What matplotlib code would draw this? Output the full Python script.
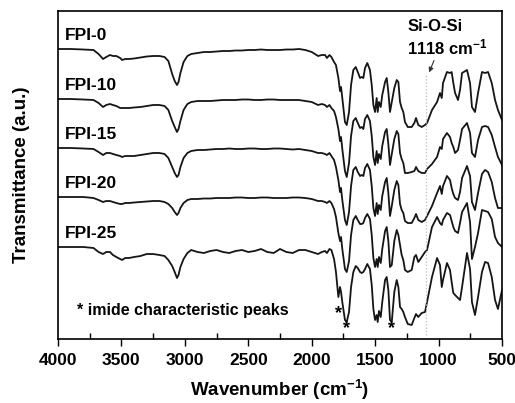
import numpy as np
import matplotlib
matplotlib.use("Agg")
import matplotlib.pyplot as plt
from matplotlib.ticker import MultipleLocator

plt.rcParams["font.family"] = ["Liberation Sans", "DejaVu Sans"]
plt.rcParams["font.weight"] = "bold"
plt.rcParams["mathtext.fontset"] = "custom"
plt.rcParams["mathtext.rm"] = "Liberation Sans:bold"
plt.rcParams["mathtext.default"] = "rm"

# wavenumber grid (cm-1), shared by all spectra
wavenumber = [
    4000, 3900, 3800, 3720, 3680, 3645, 3620, 3590, 3567, 3540,
    3510, 3495, 3470, 3440, 3400, 3350, 3300, 3250, 3200, 3160,
    3130, 3100, 3080, 3062, 3050, 3035, 3010, 2980, 2950, 2900,
    2850, 2800, 2750, 2700, 2650, 2600, 2550, 2500, 2450, 2400,
    2350, 2300, 2250, 2200, 2150, 2100, 2050, 2000, 1950, 1920,
    1895, 1880, 1860, 1845,
    1824, 1809, 1790, 1777, 1769, 1759, 1738, 1724, 1706, 1690,
    1672, 1653, 1637, 1619, 1606, 1593, 1580, 1562, 1541, 1527,
    1514, 1501, 1488, 1480, 1470, 1456, 1444, 1422, 1409, 1396,
    1383, 1369, 1349, 1330, 1317, 1304, 1291, 1278, 1265, 1243,
    1212, 1191, 1178, 1160, 1133, 1107, 1091, 1052, 1012, 989,
    975, 965, 934, 910, 897, 884, 870, 847, 831, 815,
    776, 752, 737, 713, 689, 658, 634, 610, 581, 555, 532, 500,
]

# absorption depth below each baseline (a.u.)
fpi_0 = [
    0, 0, 0.5, 1, 5, 10, 8, 6, 7, 7,
    9, 11, 10, 10, 9.5, 8.5, 7.5, 7, 7, 8,
    12, 25, 32, 36, 33, 24, 13, 7, 5, 4,
    3, 3, 2.5, 2, 2, 1.5, 1.5, 1, 1, 0.5,
    1, 1, 1, 0.5, 0.5, 0, 1, 3, 7, 6,
    6, 9, 6, 8,
    13, 16, 29, 42, 38, 49, 73, 76, 63, 36,
    21, 18, 23, 29, 28, 29, 19, 14, 21, 36,
    56, 63, 49, 63, 53, 58, 46, 33, 29, 43,
    63, 53, 39, 31, 33, 53, 59, 63, 73, 78,
    78, 74, 69, 76, 78, 76, 74, 61, 53, 44,
    49, 34, 23, 24, 23, 34, 44, 51, 41, 24,
    21, 34, 58, 63, 44, 23, 24, 23, 34, 51, 61, 71,
]
fpi_10 = [
    0, 0, 0.5, 1, 4, 8, 6, 5, 6, 7,
    9, 9, 9, 9, 8.5, 8, 7, 6, 6, 7,
    11, 22, 28, 33, 30, 22, 11, 5, 3, 2,
    2, 2, 1.5, 1, 1, 1, 0.5, 0.5, 1, 1,
    0.5, 0.5, 1, 1, 1, 1, 2, 3, 6, 5,
    6, 8, 6, 9,
    12, 18, 30, 42, 38, 50, 72, 78, 64, 37,
    22, 19, 24, 29, 28, 30, 20, 16, 22, 37,
    58, 66, 52, 64, 55, 60, 47, 33, 30, 45,
    66, 55, 40, 32, 35, 54, 60, 64, 74, 74,
    73, 72, 68, 72, 74, 74, 70, 65, 58, 48,
    50, 40, 34, 38, 44, 48, 54, 51, 41, 30,
    24, 34, 54, 58, 41, 28, 27, 28, 36, 48, 58, 66,
]
fpi_15 = [
    0, 0, 0.5, 1, 4, 7, 5, 5, 6, 7,
    8, 9, 8, 8, 8, 7, 6, 5, 5, 6,
    10, 19, 25, 29, 27, 19, 10, 5, 3, 2,
    2, 1.5, 1, 1, 0.5, 1, 1, 0.5, 0.5, 1,
    1, 0.5, 0.5, 1, 1.5, 1, 2, 3, 5, 5,
    6, 7, 5, 8,
    12, 19, 32, 44, 40, 52, 72, 77, 64, 38,
    22, 19, 24, 28, 27, 28, 20, 16, 22, 38,
    60, 68, 55, 66, 57, 62, 48, 34, 30, 45,
    68, 58, 42, 33, 37, 56, 62, 65, 73, 75,
    75, 70, 66, 72, 74, 72, 68, 58, 45, 38,
    46, 38, 28, 32, 40, 46, 50, 52, 44, 30,
    18, 28, 54, 62, 45, 26, 22, 24, 34, 50, 60, 60,
]
fpi_20 = [
    0, 0, 0, 1, 3, 5, 4, 4, 5, 6,
    7, 7, 6, 6, 5.5, 5, 4.5, 4, 4, 5,
    7, 11, 15, 18, 16, 11, 6, 3, 2, 2,
    1.5, 1.5, 1, 1, 1, 0.5, 0.5, 1, 1, 0.5,
    0.5, 1, 1, 1, 0.5, 0.5, 1, 2, 4, 4,
    5, 6, 4, 6,
    12, 20, 36, 44, 40, 52, 72, 75, 64, 38,
    23, 19, 23, 27, 27, 26, 21, 17, 22, 38,
    61, 70, 62, 70, 60, 66, 52, 34, 30, 44,
    70, 68, 44, 33, 38, 48, 58, 63, 73, 75,
    73, 60, 58, 65, 60, 55, 53, 30, 20, 26,
    28, 23, 16, 18, 24, 30, 34, 36, 26, 15,
    6, 25, 62, 50, 36, 13, 14, 15, 22, 40, 46, 50,
]
fpi_25 = [
    0, 0, 0, 1, 5, 7, 5, 5, 8, 10,
    12, 13, 11, 11, 10, 9, 7, 7, 8, 9,
    13, 19, 25, 31, 28, 20, 12, 6, 3, 5,
    6, 4, 3, 5, 6, 4, 3, 5, 4, 2,
    5, 6, 2, 5, 6, 3, 3, 5, 7, 5,
    4, 6, 2, 3,
    12, 25, 50, 40, 45, 55, 73, 75, 65, 40,
    25, 19, 21, 25, 26, 25, 22, 17, 22, 38,
    62, 73, 68, 75, 64, 70, 55, 33, 30, 43,
    73, 75, 45, 33, 40, 60, 62, 65, 70, 77,
    78, 71, 67, 70, 66, 65, 55, 30, 11, 18,
    40, 33, 16, 23, 35, 46, 48, 51, 53, 40,
    6, 22, 55, 68, 50, 25, 15, 16, 30, 53, 62, 43,
]

labels = ["FPI-0", "FPI-10", "FPI-15", "FPI-20", "FPI-25"]
offsets = [290, 240, 191, 142, 92]
imide_peaks = [1790, 1724, 1369]
sio_band = 1100

fig = plt.figure(figsize=(5.15, 4.03), dpi=100)
ax = fig.add_axes([0.1126, 0.1588, 0.8622, 0.8139])

wn = np.array(wavenumber)
for name, depth, off in zip(labels, [fpi_0, fpi_10, fpi_15, fpi_20, fpi_25], offsets):
    ax.plot(wn, off - np.array(depth), color="#151515", lw=1.3)
    ax.text(3945, off + 14, name, fontsize=12.5, fontweight="bold",
            ha="left", va="center")

# imide markers
ax.text(imide_peaks[0], 25, "*", fontsize=13, ha="center", va="center")
ax.text(imide_peaks[1], 10, "*", fontsize=13, ha="center", va="center")
ax.text(imide_peaks[2], 10, "*", fontsize=13, ha="center", va="center")
ax.text(3850, 29, "* imide characteristic peaks", fontsize=11.5,
        ha="left", va="center")

# Si-O-Si band
ax.plot([sio_band, sio_band], [4, 264], color="#bbbbbb", lw=0.9, ls=":")
ax.text(1241, 313, "Si-O-Si", fontsize=12, ha="left", va="center")
ax.text(1249, 292, "1118 cm$^{-1}$", fontsize=12, ha="left", va="center")
ax.annotate("", xy=(1083, 264), xytext=(1028, 281),
            arrowprops=dict(arrowstyle="-|>", color="#333333", lw=0.8,
                            mutation_scale=7))

ax.set_xlim(4000, 500)
ax.set_ylim(0, 328)
ax.xaxis.set_major_locator(MultipleLocator(500))
ax.xaxis.set_minor_locator(MultipleLocator(250))
ax.tick_params(axis="x", which="major", direction="out", length=5,
               width=1, labelsize=12.5, pad=5)
ax.tick_params(axis="x", which="minor", direction="in", length=4, width=1)
ax.set_yticks([])
for sp in ax.spines.values():
    sp.set_linewidth(1.2)

ax.set_xlabel("Wavenumber (cm$^{-1}$)", fontsize=13.5, fontweight="bold",
              labelpad=7)
ax.set_ylabel("Transmittance (a.u.)", fontsize=13.5, fontweight="bold",
              labelpad=20)

plt.savefig("out.png", dpi=100)
